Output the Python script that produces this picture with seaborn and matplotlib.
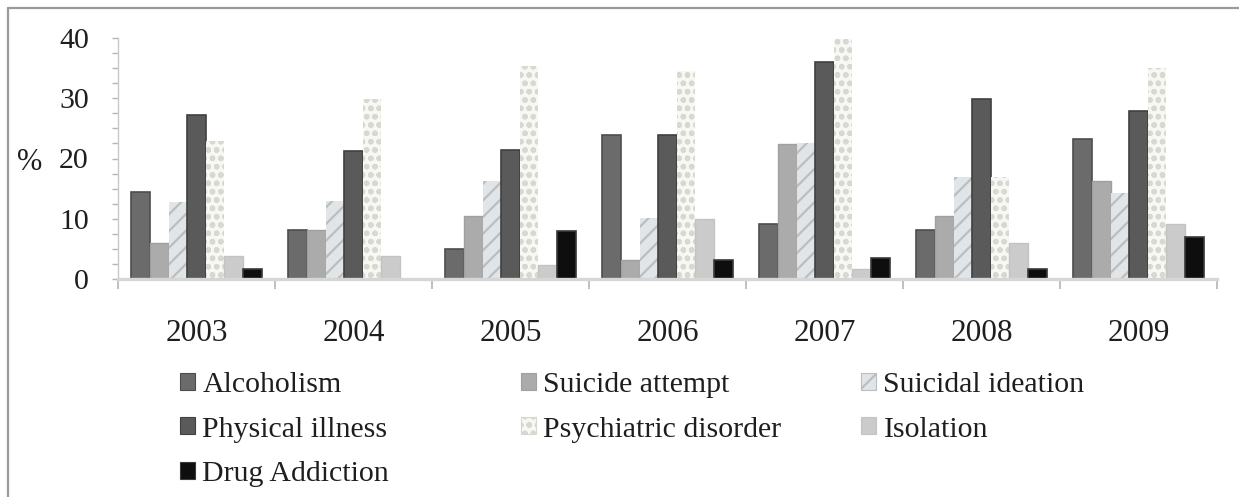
import matplotlib
matplotlib.use("Agg")
import matplotlib.pyplot as plt
from matplotlib.patches import Patch
from matplotlib.lines import Line2D
from matplotlib.ticker import MultipleLocator, FixedLocator, NullFormatter
import seaborn as sns
import pandas as pd

# Share of cases (%) by contributing factor and year
years = ["2003", "2004", "2005", "2006", "2007", "2008", "2009"]
alcoholism = [14.4, 8.2, 5.0, 23.9, 9.2, 8.2, 23.2]
suicide_attempt = [6.0, 8.2, 10.4, 3.2, 22.4, 10.4, 16.3]
suicidal_ideation = [12.7, 12.9, 16.2, 10.2, 22.6, 17.0, 14.2]
physical_illness = [27.2, 21.2, 21.4, 23.9, 36.0, 29.8, 27.9]
psychiatric_disorder = [22.9, 29.9, 35.3, 34.6, 39.8, 17.0, 35.1]
isolation = [3.9, 3.9, 2.4, 9.9, 1.7, 6.0, 9.2]
drug_addiction = [1.7, 0.0, 7.9, 3.2, 3.5, 1.7, 6.9]

causes = ["Alcoholism", "Suicide attempt", "Suicidal ideation", "Physical illness",
          "Psychiatric disorder", "Isolation", "Drug Addiction"]
series = [alcoholism, suicide_attempt, suicidal_ideation, physical_illness,
          psychiatric_disorder, isolation, drug_addiction]

rows = []
for cause, vals in zip(causes, series):
    for yr, v in zip(years, vals):
        rows.append({"year": yr, "cause": cause, "pct": v})
df = pd.DataFrame(rows)

# Fill / edge / hatch per factor
styles = {
    "Alcoholism":           dict(facecolor="#6b6b6b", edgecolor="#4d4d4d", hatch=None, lw=1.2),
    "Suicide attempt":      dict(facecolor="#ababab", edgecolor="#a0a0a0", hatch=None, lw=1.0),
    "Suicidal ideation":    dict(facecolor="#e2e5e7", edgecolor="#b9bec1", hatch="//", lw=0.0),
    "Physical illness":     dict(facecolor="#5a5a5a", edgecolor="#404040", hatch=None, lw=1.2),
    "Psychiatric disorder": dict(facecolor="#f7f7f3", edgecolor="#d8d8d1", hatch="oo", lw=0.0),
    "Isolation":            dict(facecolor="#cbcbcb", edgecolor="#c3c3c3", hatch=None, lw=1.0),
    "Drug Addiction":       dict(facecolor="#0e0e0e", edgecolor="#3a3a3a", hatch=None, lw=1.2),
}

sns.set_theme(style="white")
plt.rcParams["font.family"] = ["Liberation Serif", "DejaVu Serif"]
plt.rcParams["hatch.linewidth"] = 1.6

fig = plt.figure(figsize=(12.39, 4.97), dpi=100)
ax = fig.add_axes([118 / 1239, 1 - 279 / 497, (1217 - 118) / 1239, (279 - 38) / 497])

sns.barplot(data=df, x="year", y="pct", hue="cause", hue_order=causes, order=years,
            palette=[styles[c]["facecolor"] for c in causes], width=0.83,
            saturation=1, legend=False, ax=ax, errorbar=None)

for cont, cause in zip(ax.containers, causes):
    st = styles[cause]
    for bar in cont:
        bar.set_facecolor(st["facecolor"])
        bar.set_edgecolor(st["edgecolor"])
        bar.set_linewidth(st["lw"])
        if st["hatch"]:
            bar.set_hatch(st["hatch"])

ax.set_xlim(-0.5, len(years) - 0.5)
ax.set_ylim(0, 40)
ax.set_xlabel("")
ax.set_ylabel("")

# y axis: labels every 10, tick marks every 2.5
ax.yaxis.set_major_locator(MultipleLocator(10))
ax.yaxis.set_minor_locator(MultipleLocator(2.5))
ax.tick_params(axis="y", which="both", direction="out", length=4, width=1,
               color="#b5b5b5", left=True, pad=17, labelsize=21.5, labelcolor="#1e1e1e")

# x axis: tick marks on group boundaries, labels at group centres
ax.xaxis.set_major_locator(FixedLocator([i - 0.5 for i in range(len(years) + 1)]))
ax.xaxis.set_major_formatter(NullFormatter())
ax.xaxis.set_minor_locator(FixedLocator(range(len(years))))
ax.set_xticklabels(years, minor=True)
ax.tick_params(axis="x", which="major", direction="out", length=7, width=1.2,
               color="#b5b5b5", bottom=True)
ax.tick_params(axis="x", which="minor", length=0, pad=29, labelsize=22.5,
               labelcolor="#1e1e1e", bottom=True)

for side in ("top", "right"):
    ax.spines[side].set_visible(False)
ax.spines["bottom"].set_color("#d6d6d6")
ax.spines["bottom"].set_linewidth(2.4)
ax.spines["left"].set_color("#c8c8c8")
ax.spines["left"].set_linewidth(1.0)

fig.text(30 / 1239, 1 - 163 / 497, "%", fontsize=22, ha="center", va="center",
         color="#1e1e1e")

# Legend laid out in three columns
def handle(cause):
    st = styles[cause]
    return Patch(facecolor=st["facecolor"], edgecolor=st["edgecolor"],
                 hatch=st["hatch"], linewidth=0.8)

columns = [
    (["Alcoholism", "Physical illness", "Drug Addiction"], 180),
    (["Suicide attempt", "Psychiatric disorder"], 521),
    (["Suicidal ideation", "Isolation"], 861),
]
for names, xpix in columns:
    fig.legend(handles=[handle(n) for n in names], labels=names,
               loc="upper left", bbox_to_anchor=(xpix / 1239, 1 - 372 / 497),
               frameon=False, fontsize=21.5, handlelength=0.5, handleheight=0.5,
               handletextpad=0.25, labelspacing=0.62, borderpad=0, borderaxespad=0,
               labelcolor="#1e1e1e")

# Outer frame on the top and left edges
fig.add_artist(Line2D([8 / 1239, 1.0], [1 - 7.5 / 497, 1 - 7.5 / 497],
                      transform=fig.transFigure, color="#9a9a9a", lw=1.6))
fig.add_artist(Line2D([8 / 1239, 8 / 1239], [1 - 7.5 / 497, 0.0],
                      transform=fig.transFigure, color="#9a9a9a", lw=1.6))

fig.savefig("out.png", dpi=100, facecolor="white")
